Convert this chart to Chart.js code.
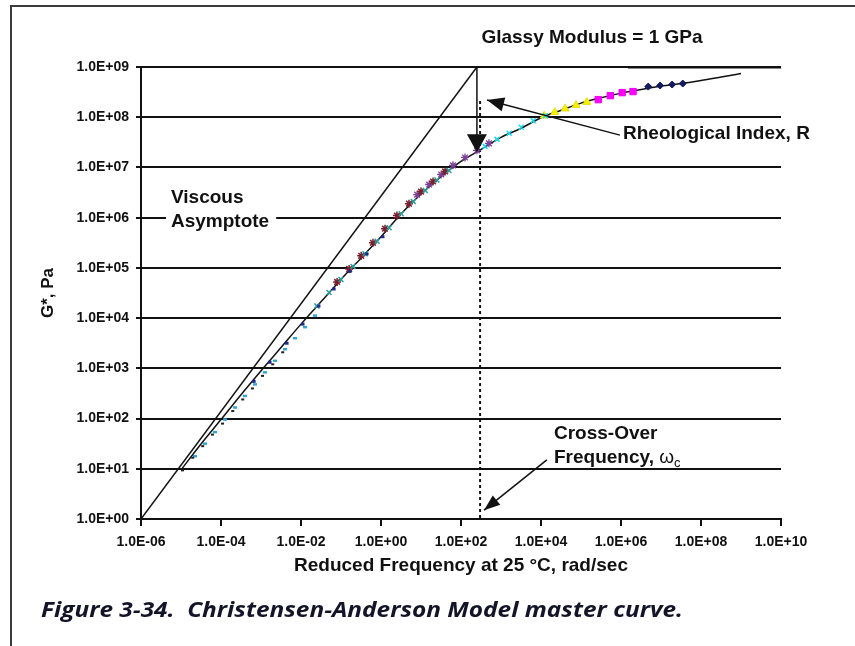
<!DOCTYPE html>
<html><head><meta charset="utf-8">
<script src="https://cdn.jsdelivr.net/npm/chart.js@4.4.0/dist/chart.umd.min.js"></script>
<style>html,body{margin:0;padding:0;background:#fff;}#wrap{width:855px;height:646px;position:relative;}</style>
</head><body><div id="wrap"><canvas id="c" width="855" height="646"></canvas></div>
<script>
// ---- tick values ----
const xTickValues = [1e-6, 1e-4, 1e-2, 1, 1e2, 1e4, 1e6, 1e8, 1e10];
const yTickValues = [1, 10, 100, 1e3, 1e4, 1e5, 1e6, 1e7, 1e8, 1e9];

// ---- model (CA fit) curve ----
const curveFreq = [1e-5, 3.2e-5, 1e-4, 3.2e-4, 1e-3, 3.2e-3, 1e-2, 3.2e-2, 0.1, 0.32, 1, 3.2, 10, 32, 100, 320, 1000, 3200, 1e4, 3.2e4, 1e5, 3.2e5, 1e6, 3.2e6, 1e7, 3.2e7, 1e8, 3.2e8, 1e9];
const curveG    = [9.5, 31.6, 95.5, 302, 891, 2630, 7590, 21400, 58900, 158000, 417000, 1.2e6, 2.95e6, 6.61e6, 1.32e7, 2.29e7, 3.98e7, 6.03e7, 9.77e7, 1.38e8, 1.91e8, 2.45e8, 3.02e8, 3.55e8, 4.17e8, 4.68e8, 5.37e8, 6.31e8, 7.41e8];

// ---- viscous asymptote & glassy modulus ----
const asymFreq = [1e-6, 250];
const asymG    = [1, 1e9];
const glassyFreq = [1.5e6, 1e10];
const glassyG    = [1e9, 1e9];
const crossOverFreq = 250;      // omega_c
const rIndexTipG = 2.0e7;       // G* at omega_c
const dottedFreq = 300;
const dottedG = [2.1e8, 1];

// ---- measured data series ----
const lightBlueFreq = [2.0e-5, 3.55e-5, 6.3e-5, 1.12e-4, 2.0e-4, 3.55e-4, 6.3e-4, 1.12e-3, 2.0e-3, 3.55e-3, 6.3e-3, 1.12e-2, 2.0e-2];
const lightBlueG    = [17.8, 31.6, 53.7, 95.5, 166, 282, 479, 832, 1413, 2399, 3981, 6607, 11220];
const blackFreq = [1.0e-5, 1.8e-5, 3.2e-5, 5.6e-5, 1.0e-4, 1.8e-4, 3.2e-4, 5.6e-4, 1.0e-3, 1.8e-3, 3.2e-3];
const blackG    = [9.3, 16.6, 28.2, 47.9, 79.4, 141, 240, 398, 708, 1202, 2089];
const navyFreq = [6e-4, 1.5e-3, 4e-3, 1e-2, 2.5e-2, 6e-2, 0.15, 0.4, 1.0];
const navyG    = [550, 1320, 3160, 7590, 17400, 38000, 85100, 190000, 417000];
const tealFreq = [0.025, 0.05, 0.1, 0.2, 0.4, 0.8, 1.6, 3.2, 6.4, 12.8, 25, 50];
const tealG    = [17400, 32400, 58900, 107000, 191000, 339000, 631000, 1.2e6, 2.09e6, 3.47e6, 5.62e6, 8.71e6];
const maroonFreq = [0.08, 0.16, 0.32, 0.63, 1.26, 2.5, 5, 10, 20, 40];
const maroonG    = [52500, 95500, 174000, 316000, 603000, 1.1e6, 1.9e6, 3.31e6, 5.25e6, 8.32e6];
const purpleFreq = [8, 16, 32, 63, 126, 250, 500];
const purpleG    = [2.88e6, 4.57e6, 7.24e6, 1.1e7, 1.58e7, 2.19e7, 3.02e7];
const cyanFreq = [400, 800, 1600, 3200, 6400, 12800];
const cyanG    = [2.63e7, 3.63e7, 4.79e7, 6.31e7, 8.51e7, 1.07e8];
const yellowFreq = [1.2e4, 2.2e4, 4e4, 7.5e4, 1.4e5];
const yellowG    = [1.07e8, 1.26e8, 1.48e8, 1.74e8, 2.0e8];
const magentaFreq = [2.7e5, 5.4e5, 1.07e6, 2.0e6];
const magentaG    = [2.24e8, 2.69e8, 3.09e8, 3.24e8];
const diamondFreq = [4.8e6, 9.5e6, 1.9e7, 3.5e7];
const diamondG    = [4.07e8, 4.27e8, 4.47e8, 4.68e8];

// ---- helpers ----
const pts = (xs, ys) => xs.map((v, i) => ({x: v, y: ys[i]}));
const FONT = "'Liberation Sans', Arial, sans-serif";
const INK = '#111';
const CAPTION = 'Figure 3-34.  Christensen-Anderson Model master curve.';
const sciLabel = v => {
  const e = Math.round(Math.log10(v));
  return '1.0E' + (e < 0 ? '-' : '+') + String(Math.abs(e)).padStart(2, '0');
};
function lineDS(data, opts) {
  return Object.assign({data, showLine: true, pointRadius: 0, pointHoverRadius: 0,
    borderColor: INK, borderWidth: 1.5, fill: false, order: 10}, opts);
}
function ptDS(data, style, color, fillColor, r, bw) {
  return {data, showLine: false, pointStyle: style, pointRadius: r, pointHoverRadius: r,
    borderColor: color, backgroundColor: fillColor, pointBorderWidth: bw, borderWidth: bw, order: 1};
}

function arrowHead(ctx, fx, fy, tx, ty, len, half) {
  const a = Math.atan2(ty - fy, tx - fx);
  ctx.beginPath();
  ctx.moveTo(tx, ty);
  ctx.lineTo(tx - len * Math.cos(a) + half * Math.sin(a), ty - len * Math.sin(a) - half * Math.cos(a));
  ctx.lineTo(tx - len * Math.cos(a) - half * Math.sin(a), ty - len * Math.sin(a) + half * Math.cos(a));
  ctx.closePath();
  ctx.fill();
}

const annotations = {
  id: 'annotations',
  afterDatasetsDraw(chart) {
    const {ctx, scales: {x, y}} = chart;
    ctx.save();
    ctx.fillStyle = INK; ctx.strokeStyle = INK;
    // vertical R arrowhead at omega_c
    const cx = x.getPixelForValue(crossOverFreq);
    const tipY = y.getPixelForValue(rIndexTipG);
    arrowHead(ctx, cx, tipY - 30, cx, tipY, 18, 10);
    // Rheological index arrow
    const r0x = x.getPixelForValue(9.4e5), r0y = y.getPixelForValue(4.4e7);
    const r1x = x.getPixelForValue(447), r1y = y.getPixelForValue(2.2e8);
    ctx.lineWidth = 1.5;
    ctx.beginPath(); ctx.moveTo(r0x, r0y); ctx.lineTo(r1x, r1y); ctx.stroke();
    arrowHead(ctx, r0x, r0y, r1x, r1y, 17, 7);
    // cross-over arrow
    const c0x = x.getPixelForValue(1.4e4), c0y = y.getPixelForValue(15);
    const c1x = x.getPixelForValue(376), c1y = y.getPixelForValue(1.5);
    ctx.beginPath(); ctx.moveTo(c0x, c0y); ctx.lineTo(c1x, c1y); ctx.stroke();
    arrowHead(ctx, c0x, c0y, c1x, c1y, 16, 6);

    // texts
    ctx.textBaseline = 'middle';
    ctx.font = 'bold 19px ' + FONT;
    ctx.textAlign = 'center';
    ctx.fillText('Glassy Modulus = 1 GPa', 592, 38);
    ctx.textAlign = 'left';
    ctx.fillText('Rheological Index, R', 623, 134);
    ctx.fillText('Viscous', 171, 198);
    const w = ctx.measureText('Asymptote').width;
    ctx.fillStyle = '#fff';
    ctx.fillRect(166, 211, w + 12, 16);
    ctx.fillStyle = INK;
    ctx.fillText('Asymptote', 171, 222);
    ctx.fillText('Cross-Over', 554, 434);
    const f = 'Frequency, ';
    ctx.fillText(f, 554, 458);
    const fw = ctx.measureText(f).width;
    ctx.font = '19px ' + FONT;
    ctx.fillText('\u03C9', 554 + fw, 458);
    const ow = ctx.measureText('\u03C9').width;
    ctx.font = '13px ' + FONT;
    ctx.fillText('c', 554 + fw + ow, 463);
    ctx.restore();
  },
  afterDraw(chart) {
    const {ctx} = chart;
    ctx.save();
    ctx.strokeStyle = '#3c3c3c';
    ctx.lineWidth = 2;
    ctx.beginPath();
    ctx.moveTo(11, 646); ctx.lineTo(11, 6); ctx.lineTo(855, 6);
    ctx.stroke();
    ctx.fillStyle = '#141428';
    ctx.textBaseline = 'alphabetic';
    ctx.textAlign = 'left';
    ctx.font = "italic bold 22px 'Open Sans', 'Noto Sans', sans-serif";
    const target = 642;
    const cw = ctx.measureText(CAPTION).width;
    ctx.translate(41, 617);
    ctx.scale(target / cw, 1);
    ctx.fillText(CAPTION, 0, 0);
    ctx.restore();
  }
};

new Chart(document.getElementById('c'), {
  type: 'scatter',
  data: {
    datasets: [
      lineDS(pts(asymFreq, asymG), {label: 'Viscous asymptote'}),
      lineDS(pts(curveFreq, curveG), {label: 'CA model', cubicInterpolationMode: 'monotone'}),
      lineDS(pts(glassyFreq, glassyG), {label: 'Glassy modulus', borderWidth: 3}),
      lineDS(pts([crossOverFreq, crossOverFreq], [1e9, rIndexTipG]), {label: 'R', borderWidth: 1.5}),
      lineDS(pts([dottedFreq, dottedFreq], dottedG), {label: 'omega c', borderWidth: 2, borderDash: [3, 3]}),
      ptDS(pts(blackFreq, blackG), 'dash', '#222', '#222', 3, 2),
      ptDS(pts(lightBlueFreq, lightBlueG), 'dash', '#2fa6dc', '#2fa6dc', 4, 2.5),
      ptDS(pts(navyFreq, navyG), 'dash', '#1f2a8a', '#1f2a8a', 3.5, 3),
      ptDS(pts(tealFreq, tealG), 'crossRot', '#2a9d9d', '#2a9d9d', 3.5, 1.5),
      ptDS(pts(maroonFreq, maroonG), 'star', '#7a1f2b', '#7a1f2b', 4, 1.5),
      ptDS(pts(purpleFreq, purpleG), 'star', '#7b3f98', '#7b3f98', 4, 1.3),
      ptDS(pts(cyanFreq, cyanG), 'crossRot', '#18d8f0', '#18d8f0', 3.5, 1.5),
      ptDS(pts(yellowFreq, yellowG), 'triangle', '#e8e000', '#f8f000', 4.5, 1),
      ptDS(pts(magentaFreq, magentaG), 'rect', '#ee00ee', '#ff00ff', 4.5, 1),
      ptDS(pts(diamondFreq, diamondG), 'rectRot', '#141a5e', '#141a5e', 3.5, 1)
    ]
  },
  options: {
    responsive: false,
    devicePixelRatio: 1,
    animation: false,
    layout: {padding: {top: 67, right: 74, left: 0, bottom: 0}},
    plugins: {legend: {display: false}, tooltip: {enabled: false}, title: {display: false}},
    scales: {
      x: {
        type: 'logarithmic', min: 1e-6, max: 1e10,
        afterBuildTicks: s => { s.ticks = xTickValues.map(v => ({value: v, major: true})); },
        afterFit: s => { s.height = 127; },
        ticks: {autoSkip: false, maxRotation: 0, minRotation: 0, padding: 8, color: INK,
          font: {family: FONT, size: 14, weight: 'bold'}, callback: v => sciLabel(v)},
        grid: {drawOnChartArea: false, drawTicks: true, tickLength: 7, color: INK, lineWidth: 2},
        border: {display: true, color: INK, width: 2},
        title: {display: true, text: 'Reduced Frequency at 25 \u00B0C, rad/sec', color: INK,
          font: {family: FONT, size: 19, weight: 'bold'}, padding: {top: 0, bottom: 69}}
      },
      y: {
        type: 'logarithmic', min: 1, max: 1e9,
        afterBuildTicks: s => { s.ticks = yTickValues.map(v => ({value: v, major: true})); },
        afterFit: s => { s.width = 141; },
        ticks: {autoSkip: false, padding: 7, color: INK,
          font: {family: FONT, size: 14, weight: 'bold'}, callback: v => sciLabel(v)},
        grid: {drawOnChartArea: true, drawTicks: true, tickLength: 5, color: INK, lineWidth: 2},
        border: {display: true, color: INK, width: 2},
        title: {display: true, text: 'G*, Pa', color: INK,
          font: {family: FONT, size: 17, weight: 'bold'}, padding: {top: 38, bottom: 0}}
      }
    }
  },
  plugins: [annotations]
});
</script>
</body></html>
